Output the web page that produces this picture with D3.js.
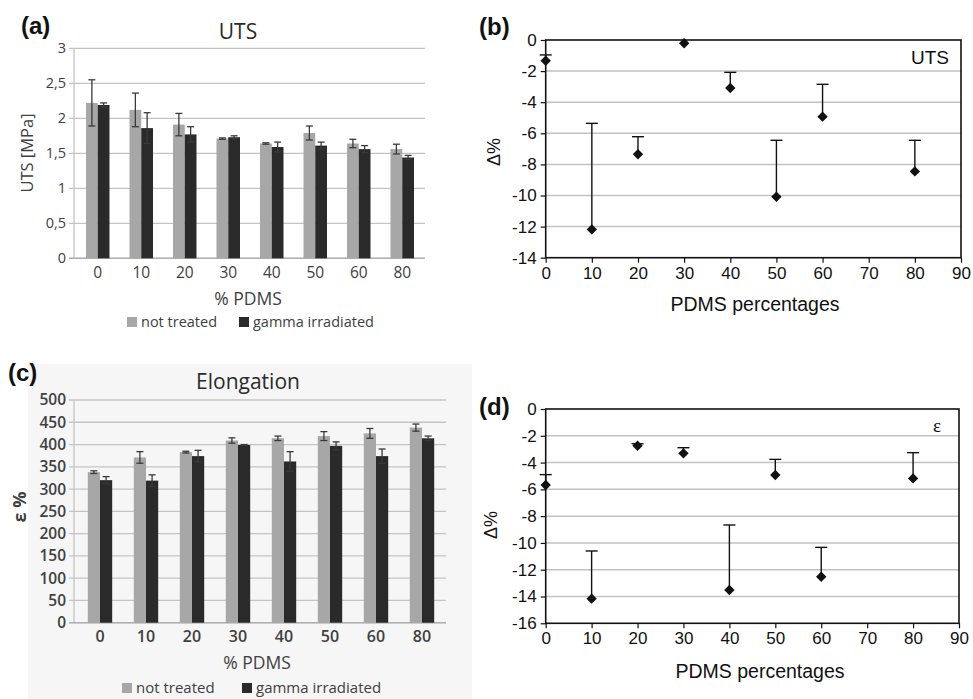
<!DOCTYPE html>
<html>
<head>
<meta charset="utf-8">
<script src="https://cdn.jsdelivr.net/npm/d3@7/dist/d3.min.js"></script>
<style>
  html, body { margin: 0; padding: 0; background: #fff; }
  svg { display: block; }
</style>
</head>
<body>
<svg id="chart" width="973" height="699"></svg>
<script>
// ---------------- DATA ----------------
const categories = ["0", "10", "20", "30", "40", "50", "60", "80"];

const utsNotTreated    = [2.22, 2.12, 1.91, 1.71, 1.64, 1.79, 1.64, 1.56];
const utsNotTreatedErr = [0.33, 0.24, 0.16, 0.01, 0.01, 0.10, 0.06, 0.07];
const utsGamma         = [2.19, 1.86, 1.77, 1.73, 1.59, 1.61, 1.56, 1.44];
const utsGammaErr      = [0.03, 0.22, 0.11, 0.02, 0.07, 0.05, 0.05, 0.03];
const utsTicks = [0, 0.5, 1, 1.5, 2, 2.5, 3];

const elongNotTreated    = [338, 371, 383, 409, 414, 419, 425, 438];
const elongNotTreatedErr = [3, 13, 2, 6, 5, 10, 11, 8];
const elongGamma         = [320, 319, 374, 399, 362, 397, 374, 414];
const elongGammaErr      = [8, 13, 13, 1, 22, 9, 16, 5];
const elongTicks = [0, 50, 100, 150, 200, 250, 300, 350, 400, 450, 500];

const pdmsX = [0, 10, 20, 30, 40, 50, 60, 80];
const deltaUTS       = [-1.33, -12.18, -7.35, -0.21, -3.09, -10.08, -4.93, -8.45];
const deltaUTSErr    = [0.37, 6.82, 1.13, 0, 1.01, 3.63, 2.08, 2.0];
const deltaElong     = [-5.67, -14.16, -2.74, -3.31, -13.51, -4.93, -12.52, -5.18];
const deltaElongErr  = [0.77, 3.56, 0.15, 0.42, 4.85, 1.17, 2.19, 1.92];
const pdmsTicks = [0, 10, 20, 30, 40, 50, 60, 70, 80, 90];
const deltaUTSTicks = [0, -2, -4, -6, -8, -10, -12, -14];
const deltaElongTicks = [0, -2, -4, -6, -8, -10, -12, -14, -16];

const seriesNames = ["not treated", "gamma irradiated"];

// ---------------- DRAW ----------------
const svg = d3.select("#chart");
const excelFont = "'Open Sans', 'DejaVu Sans', sans-serif";
const sansFont = "'Liberation Sans', Arial, sans-serif";
const greyBar = "#a7a7a7", darkBar = "#2a2a2a";

function barPanel(opt) {
  const g = svg.append("g");
  if (opt.bg) {
    g.append("rect").attr("x", opt.bg[0]).attr("y", opt.bg[1])
      .attr("width", opt.bg[2]).attr("height", opt.bg[3]).attr("fill", "#f6f6f6");
  }
  const x = d3.scaleBand().domain(categories).range([opt.x0, opt.x1]).paddingInner(opt.pad).paddingOuter(opt.pad / 2);
  const y = d3.scaleLinear().domain([0, opt.ticks[opt.ticks.length - 1]]).range([opt.yb, opt.yt]);
  const sub = d3.scaleBand().domain([0, 1]).range([0, x.bandwidth()]);

  g.append("g").selectAll("line").data(opt.ticks).join("line")
    .attr("x1", opt.axisX - 5).attr("x2", opt.gridEnd)
    .attr("y1", d => y(d)).attr("y2", d => y(d))
    .attr("stroke", "#c4c4c4").attr("stroke-width", 1.3);
  g.append("line").attr("x1", opt.axisX).attr("x2", opt.axisX)
    .attr("y1", y(opt.ticks[opt.ticks.length - 1])).attr("y2", y(0))
    .attr("stroke", "#c4c4c4").attr("stroke-width", 1.3);
  g.append("line").attr("x1", opt.axisX - 5).attr("x2", opt.gridEnd)
    .attr("y1", y(0)).attr("y2", y(0)).attr("stroke", "#b0b0b0").attr("stroke-width", 1.5);

  const yAxis = d3.axisLeft(y).tickValues(opt.ticks).tickSize(0).tickPadding(0).tickFormat(opt.fmt);
  const ya = g.append("g").attr("transform", `translate(${opt.labelX},0)`).call(yAxis);
  ya.select(".domain").remove();
  ya.selectAll("text").attr("font-family", excelFont).attr("font-size", opt.yFont)
    .attr("fill", "#404040").attr("font-weight", opt.yWeight || "normal");

  const xAxis = d3.axisBottom(x).tickSize(0).tickPadding(0);
  const xa = g.append("g").attr("transform", `translate(0,${opt.xLabelY})`).call(xAxis);
  xa.select(".domain").remove();
  xa.selectAll("text").attr("font-family", excelFont).attr("font-size", opt.xFont)
    .attr("font-weight", opt.yWeight || "normal")
    .attr("fill", "#404040").attr("dy", "0.35em").attr("y", 0);

  const series = [
    { vals: opt.nt, err: opt.ntErr, color: greyBar, idx: 0 },
    { vals: opt.gm, err: opt.gmErr, color: darkBar, idx: 1 }
  ];
  series.forEach(s => {
    const bx = (i) => x(categories[i]) + sub(s.idx);
    g.append("g").selectAll("rect").data(s.vals).join("rect")
      .attr("x", (d, i) => bx(i)).attr("width", sub.bandwidth())
      .attr("y", d => y(d)).attr("height", d => y(0) - y(d))
      .attr("fill", s.color);
    const eg = g.append("g").attr("stroke", "#3a3a3a").attr("stroke-width", 1.3);
    s.vals.forEach((v, i) => {
      const cx = bx(i) + sub.bandwidth() / 2;
      const e = s.err[i];
      eg.append("line").attr("x1", cx).attr("x2", cx).attr("y1", y(v + e)).attr("y2", y(v - e));
      eg.append("line").attr("x1", cx - 3.5).attr("x2", cx + 3.5).attr("y1", y(v + e)).attr("y2", y(v + e));
      eg.append("line").attr("x1", cx - 3.5).attr("x2", cx + 3.5).attr("y1", y(v - e)).attr("y2", y(v - e));
    });
  });

  g.append("text").attr("x", opt.titleX).attr("y", opt.titleY).attr("text-anchor", "middle")
    .attr("font-family", excelFont).attr("font-size", 21).attr("fill", "#2a2a2a").text(opt.title);
  g.append("text").attr("transform", `translate(${opt.yTitleX},${opt.yTitleY}) rotate(-90)`)
    .attr("text-anchor", "middle").attr("font-family", excelFont).attr("font-size", opt.yTitleSize)
    .attr("font-weight", opt.yTitleWeight || "normal")
    .attr("fill", "#404040").text(opt.yTitle);
  g.append("text").attr("x", opt.xTitleX).attr("y", opt.xTitleY).attr("text-anchor", "middle")
    .attr("font-family", excelFont).attr("font-size", 17.5).attr("fill", "#404040").text("% PDMS");
  const lg = g.append("g").attr("font-family", excelFont).attr("font-size", opt.legFont).attr("fill", "#404040");
  [greyBar, darkBar].forEach((c, i) => {
    lg.append("rect").attr("x", opt.legX[i]).attr("y", opt.legY - 5).attr("width", 10).attr("height", 10).attr("fill", c);
    lg.append("text").attr("x", opt.legX[i] + 14).attr("y", opt.legY).attr("dy", "0.35em").text(seriesNames[i]);
  });
  svg.append("text").attr("x", opt.letterX).attr("y", opt.letterY)
    .attr("font-family", sansFont).attr("font-weight", "bold").attr("font-size", 24)
    .attr("fill", "#111").text(opt.letter);
}

function deltaPanel(opt) {
  const g = svg.append("g");
  const x = d3.scaleLinear().domain([0, 90]).range([opt.x0, opt.x1]);
  const y = d3.scaleLinear().domain([opt.ticks[opt.ticks.length - 1], 0]).range([opt.yb, opt.yt]);

  g.append("g").selectAll("line").data(opt.ticks.slice(1, -1)).join("line")
    .attr("x1", opt.x0).attr("x2", opt.x1).attr("y1", d => y(d)).attr("y2", d => y(d))
    .attr("stroke", "#c2c2c2").attr("stroke-width", 1.5);

  const xa = g.append("g").attr("transform", `translate(0,${opt.yb})`)
    .call(d3.axisBottom(x).tickValues(pdmsTicks).tickSize(5).tickPadding(4).tickSizeOuter(0)
      .tickFormat(d => String(d)));
  xa.select(".domain").remove();
  xa.selectAll("line").attr("stroke", "#111").attr("stroke-width", 1.2);
  xa.selectAll("text").attr("font-family", sansFont).attr("font-size", 17).attr("fill", "#111");

  const ya = g.append("g").attr("transform", `translate(${opt.x0},0)`)
    .call(d3.axisLeft(y).tickValues(opt.ticks).tickSize(5).tickPadding(4).tickSizeOuter(0)
      .tickFormat(d => String(d)));
  ya.select(".domain").remove();
  ya.selectAll("line").attr("stroke", "#111").attr("stroke-width", 1.2);
  ya.selectAll("text").attr("font-family", sansFont).attr("font-size", 17).attr("fill", "#111");

  g.append("rect").attr("x", opt.x0).attr("y", opt.yt).attr("width", opt.x1 - opt.x0)
    .attr("height", opt.yb - opt.yt).attr("fill", "none").attr("stroke", "#111").attr("stroke-width", 1.6);

  const eg = g.append("g").attr("stroke", "#111").attr("stroke-width", 1.4);
  opt.vals.forEach((v, i) => {
    const e = opt.err[i];
    if (e <= 0) return;
    const cx = x(pdmsX[i]);
    eg.append("line").attr("x1", cx).attr("x2", cx).attr("y1", y(v)).attr("y2", y(v + e));
    eg.append("line").attr("x1", cx - 6).attr("x2", cx + 6).attr("y1", y(v + e)).attr("y2", y(v + e));
  });
  g.append("g").selectAll("path").data(opt.vals).join("path")
    .attr("transform", (d, i) => `translate(${x(pdmsX[i])},${y(d)}) rotate(45)`)
    .attr("d", d3.symbol().type(d3.symbolSquare).size(54)).attr("fill", "#111");

  g.append("text").attr("x", opt.labelX).attr("y", opt.labelY).attr("text-anchor", "middle")
    .attr("dy", "0.35em").attr("font-family", opt.labelFont).attr("font-size", opt.labelSize)
    .attr("fill", "#111").text(opt.label);

  g.append("text").attr("x", opt.xTitleX).attr("y", opt.xTitleY).attr("text-anchor", "middle")
    .attr("font-family", sansFont).attr("font-size", 19.5).attr("fill", "#111").text("PDMS percentages");
  g.append("text").attr("transform", `translate(${opt.yTitleX},${opt.yTitleY}) rotate(-90)`)
    .attr("text-anchor", "middle").attr("font-family", sansFont).attr("font-size", 18)
    .attr("fill", "#111").text("Δ%");

  svg.append("text").attr("x", opt.letterX).attr("y", opt.letterY)
    .attr("font-family", sansFont).attr("font-weight", "bold").attr("font-size", 24)
    .attr("fill", "#111").text(opt.letter);
}

barPanel({
  letter: "(a)", letterX: 21, letterY: 34,
  title: "UTS", titleX: 238, titleY: 39,
  x0: 76, x1: 424, pad: 0.46, axisX: 74, gridEnd: 425,
  yt: 48.3, yb: 258.3, ticks: utsTicks, fmt: d => String(d).replace(".", ","),
  labelX: 66, yFont: 14.5, xFont: 15.5,
  xLabelY: 273,
  nt: utsNotTreated, ntErr: utsNotTreatedErr, gm: utsGamma, gmErr: utsGammaErr,
  yTitle: "UTS [MPa]", yTitleX: 33, yTitleY: 153, yTitleSize: 16.5,
  xTitleX: 248, xTitleY: 305,
  legX: [127, 239], legY: 322, legFont: 14.5
});

barPanel({
  bg: [28, 364, 444, 335],
  letter: "(c)", letterX: 8, letterY: 381,
  title: "Elongation", titleX: 248, titleY: 389,
  x0: 77, x1: 445, pad: 0.47, axisX: 74, gridEnd: 446,
  yt: 400, yb: 622.7, ticks: elongTicks, fmt: d => String(d),
  labelX: 66, yFont: 15.5, yWeight: "600", xFont: 16,
  xLabelY: 636,
  nt: elongNotTreated, ntErr: elongNotTreatedErr, gm: elongGamma, gmErr: elongGammaErr,
  yTitle: "ε %", yTitleX: 26, yTitleY: 507, yTitleSize: 18, yTitleWeight: "bold",
  xTitleX: 257, xTitleY: 669,
  legX: [122, 242], legY: 688, legFont: 15
});

deltaPanel({
  letter: "(b)", letterX: 479, letterY: 35,
  x0: 545.7, x1: 961, yt: 40, yb: 257.7, ticks: deltaUTSTicks,
  vals: deltaUTS, err: deltaUTSErr,
  label: "UTS", labelX: 930, labelY: 57, labelFont: sansFont, labelSize: 19,
  xTitleX: 755, xTitleY: 311, yTitleX: 500, yTitleY: 152
});

deltaPanel({
  letter: "(d)", letterX: 479, letterY: 415,
  x0: 545.7, x1: 959, yt: 409, yb: 623.3, ticks: deltaElongTicks,
  vals: deltaElong, err: deltaElongErr,
  label: "ε", labelX: 937, labelY: 425, labelFont: "'Liberation Serif', serif", labelSize: 19,
  xTitleX: 760, xTitleY: 678, yTitleX: 497, yTitleY: 525
});
</script>
</body>
</html>
